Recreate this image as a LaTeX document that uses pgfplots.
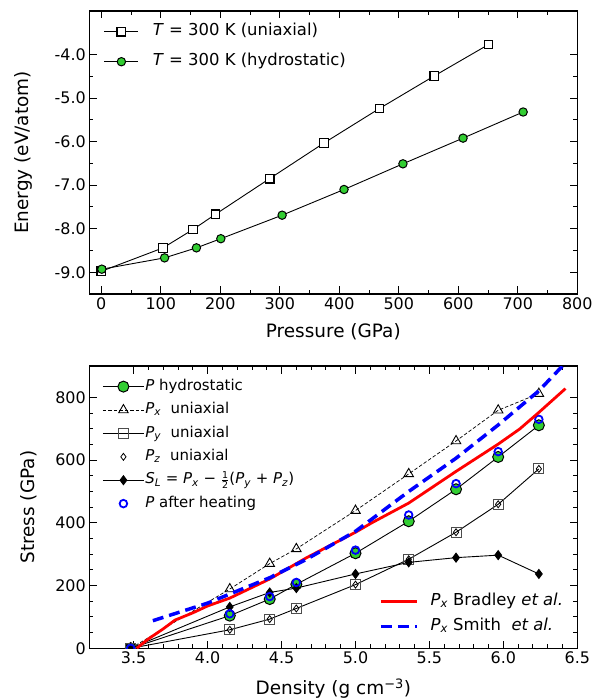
\documentclass[border=0pt]{standalone}
\usepackage{fontspec}
\setmainfont{DejaVu Sans}
\usepackage{pgfplots}
\pgfplotsset{compat=1.18}
\definecolor{mygreen}{RGB}{50,205,50}
\pgfplotsset{
  myaxis/.style={
    scale only axis, width=488bp,
    tick align=inside,
    major tick length=7.5bp, minor tick length=4bp,
    every tick/.style={black, line width=0.9bp},
    axis line style={line width=1.2bp},
    tick label style={font=\fontsize{16}{19}\selectfont},
    label style={font=\fontsize{18.5}{22}\selectfont},
    clip marker paths=true,
    legend cell align=left,
  },
  thinline/.style={black, line width=0.9bp},
}
\newcommand{\Pp}[1]{\textit{P}\textsubscript{\textit{#1}}}
\begin{document}
\begin{tikzpicture}
\useasboundingbox (0bp,0bp) rectangle (603bp,698bp);
% ---------------- top panel ----------------
\begin{axis}[myaxis, at={(89.3bp,404bp)}, anchor=south west, height=283bp,
  xmin=-20, xmax=800, ymin=-9.5, ymax=-3.0,
  xtick={0,100,200,300,400,500,600,700,800},
  xticklabels={0,100,200,300,400,500,600,700,800},
  minor x tick num=1,
  ytick={-9,-8,-7,-6,-5,-4},
  yticklabels={-9.0,-8.0,-7.0,-6.0,-5.0,-4.0},
  minor y tick num=1,
  xlabel={Pressure (GPa)}, ylabel={Energy (eV/atom)},
  xlabel style={at={(axis description cs:0.5,0)}, anchor=base, yshift=-44bp},
  ylabel style={at={(axis description cs:-0.1256,0.5)}, anchor=base},
  legend image code/.code={\draw[mark repeat=2,mark phase=2,#1] plot coordinates {(0bp,0bp) (17bp,0bp) (34bp,0bp)};},
  legend style={draw=none, fill=none, inner sep=0pt, outer sep=0pt,
    at={(axis description cs:0.030,0.955)}, anchor=north west,
    row sep=14bp, column sep=14bp,
    font=\fontsize{16.5}{19}\selectfont,
    nodes={inner sep=0pt, text height=12bp, text depth=4bp}},
]
\addplot[thinline, mark=square*, mark size=4.3bp, mark options={fill=white, line width=1.2bp}]
coordinates {(0,-8.98) (104,-8.44) (154,-8.02) (192,-7.67) (283,-6.85) (374.6,-6.03) (467.5,-5.24) (559.8,-4.49) (650.8,-3.77)};
\addlegendentry{\textit{T} = 300 K (uniaxial)}
\addplot[thinline, mark=*, mark size=4.2bp, mark options={fill=mygreen, line width=1.0bp}]
coordinates {(1,-8.93) (106.5,-8.67) (160,-8.44) (201,-8.23) (304,-7.69) (408,-7.10) (507,-6.51) (608,-5.92) (709,-5.32)};
\addlegendentry{\textit{T} = 300 K (hydrostatic)}
\end{axis}
% ---------------- bottom panel ----------------
\begin{axis}[myaxis, at={(89.3bp,49.7bp)}, anchor=south west, height=282.3bp,
  xmin=3.2, xmax=6.5, ymin=0, ymax=900,
  xtick={3.5,4.0,4.5,5.0,5.5,6.0,6.5},
  xticklabels={3.5,4.0,4.5,5.0,5.5,6.0,6.5},
  minor x tick num=4,
  ytick={0,200,400,600,800},
  yticklabels={0,200,400,600,800},
  minor y tick num=3,
  xlabel={Density (g cm\textsuperscript{−3})}, ylabel={Stress (GPa)},
  xlabel style={at={(axis description cs:0.5,0)}, anchor=base, yshift=-46bp},
  ylabel style={at={(axis description cs:-0.1133,0.5)}, anchor=base},
  legend image code/.code={\draw[mark repeat=2,mark phase=2,#1] plot coordinates {(0bp,0bp) (20.5bp,0bp) (41bp,0bp)};},
  legend style={draw=none, fill=none, inner sep=0pt, outer sep=0pt,
    at={(axis description cs:0.027,0.953)}, anchor=north west,
    row sep=8.7bp, column sep=1bp,
    font=\fontsize{15}{18}\selectfont,
    nodes={inner sep=0pt, text height=11bp, text depth=3.7bp}},
]
\addplot[thinline, mark=*, mark size=5.5bp, mark options={fill=mygreen, line width=1.0bp}]
coordinates {(3.48,0) (4.15,104) (4.42,157) (4.60,204) (5.0,303) (5.36,405) (5.68,507) (5.965,610) (6.24,711)};
\addlegendentry{\textit{P} hydrostatic}
\addplot[black, line width=0.7bp, dash pattern=on 3.5bp off 2bp, mark=triangle, mark size=5.5bp, mark options={solid, fill=white, line width=0.9bp}]
coordinates {(3.48,0) (4.15,189) (4.42,270) (4.60,317) (5.0,439) (5.36,556) (5.68,661) (5.965,759) (6.24,812)};
\addlegendentry{\Pp{x}\ \ uniaxial}
\addplot[thinline, mark=square, mark size=5bp, mark options={fill=white, line width=0.9bp, draw=black!70}]
coordinates {(3.48,0) (4.15,59) (4.42,93) (4.60,127) (5.0,203) (5.36,284) (5.68,370) (5.965,459) (6.24,572)};
\addlegendentry{\Pp{y}\ \ uniaxial}
\addplot[only marks, black, mark=diamond, mark size=3.5bp, mark options={line width=0.8bp}]
coordinates {(3.48,0) (4.15,59) (4.42,93) (4.60,127) (5.0,203) (5.36,284) (5.68,370) (5.965,459) (6.24,572)};
\addlegendentry{\Pp{z}\ \ uniaxial}
\addplot[thinline, mark=diamond*, mark size=4.5bp, mark options={fill=black}]
coordinates {(3.48,0) (4.15,132) (4.42,178) (4.60,192) (5.0,237) (5.36,274) (5.68,289) (5.965,297) (6.24,237)};
\addlegendentry{\textit{S}\textsubscript{\textit{L}} = \Pp{x} − \ensuremath{\frac{\mbox{\fontsize{9.5}{10}\selectfont 1}}{\mbox{\fontsize{9.5}{10}\selectfont 2}}}(\Pp{y} + \Pp{z})}
\addplot[only marks, mark=o, mark size=3.8bp, mark options={draw=blue, line width=1.8bp}]
coordinates {(3.48,0) (4.15,110) (4.42,165) (4.60,210) (5.0,313) (5.36,425) (5.68,525) (5.965,627) (6.24,730)};
\addlegendentry{\textit{P} after heating}
\end{axis}
% overlay axis for the literature curves
\begin{axis}[myaxis, at={(89.3bp,49.7bp)}, anchor=south west, height=282.3bp,
  xmin=3.2, xmax=6.5, ymin=0, ymax=900, hide axis,
  legend image code/.code={\draw[#1] (0bp,0bp) -- (36bp,0bp);},
  legend style={draw=none, fill=none, inner sep=0pt, outer sep=0pt,
    at={(axis description cs:0.594,0.0495)}, anchor=south west,
    row sep=9bp, column sep=12bp,
    font=\fontsize{16.5}{19}\selectfont,
    nodes={inner sep=0pt, text height=12bp, text depth=4bp}},
]
\addplot[red, line width=2.8bp] coordinates {(3.52,0) (3.6,30) (3.7,62) (3.78,90) (3.9,113) (4.0,135) (4.15,160) (4.42,221) (4.67,289) (5.0,370) (5.11,400) (5.36,463) (5.68,564) (5.965,651) (6.11,699) (6.24,752) (6.42,828)};
\addlegendentry{\Pp{x} Bradley \textit{et al.}}
\addplot[blue, line width=3.5bp, dash pattern=on 11bp off 6bp] coordinates {(3.63,88) (4.0,144) (4.15,173) (4.42,225) (4.67,284) (5.0,373) (5.36,500) (5.68,606) (5.965,712) (6.24,821) (6.41,905)};
\addlegendentry{\Pp{x} Smith \ \textit{et al.}}
\end{axis}
\end{tikzpicture}
\end{document}
